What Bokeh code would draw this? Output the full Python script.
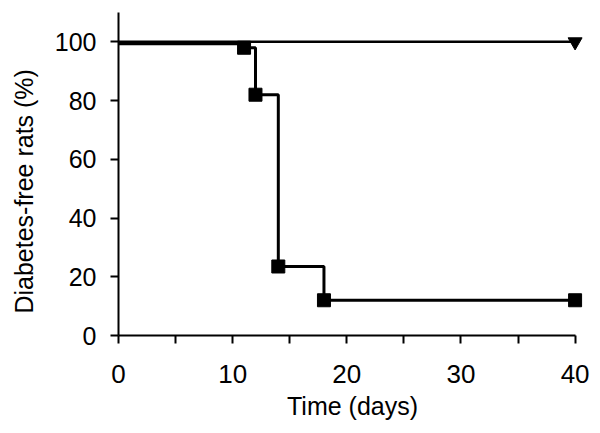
from bokeh.plotting import figure
from bokeh.models import Range1d, FixedTicker
from bokeh.embed import file_html
from bokeh.resources import INLINE

# Data
days_treated = [0, 40]
free_treated = [100, 100]

days_ctrl = [0, 11, 12, 14, 18, 40]
free_ctrl = [99.4, 98, 82, 23.5, 12, 12]

x_ticks = [0, 10, 20, 30, 40]
x_minor = [5, 15, 25, 35]
y_ticks = [0, 20, 40, 60, 80, 100]

FONT = "Liberation Sans"

p = figure(width=592, height=425, output_backend="svg", toolbar_location=None,
           x_range=Range1d(0, 41), y_range=Range1d(0, 110),
           min_border_left=118, min_border_right=6, min_border_top=12, min_border_bottom=90)
p.outline_line_color = None
p.xgrid.visible = False
p.ygrid.visible = False

# treated: flat line with inverted triangle at end
p.line(days_treated, free_treated, line_color="black", line_width=2.5)
p.scatter(days_treated[-1:], free_treated[-1:], marker="inverted_triangle", size=14,
          fill_color="black", line_color="black")

# control: step curve with squares
p.step(days_ctrl, free_ctrl, mode="after", line_color="black", line_width=3)
p.scatter(days_ctrl[1:], free_ctrl[1:], marker="square", size=13,
          fill_color="black", line_color="black")

for ax in (p.xaxis[0], p.yaxis[0]):
    ax.axis_line_width = 2
    ax.axis_line_color = "black"
    ax.major_tick_line_width = 2
    ax.major_tick_line_color = "black"
    ax.minor_tick_line_width = 2
    ax.minor_tick_line_color = "black"
    ax.major_tick_in = 0
    ax.major_tick_out = 8
    ax.minor_tick_in = 0
    ax.major_label_text_font = FONT
    ax.major_label_text_color = "black"
    ax.axis_label_text_font = FONT
    ax.axis_label_text_font_size = "25px"
    ax.axis_label_text_font_style = "normal"
    ax.axis_label_text_color = "black"

p.xaxis.ticker = FixedTicker(ticks=x_ticks, minor_ticks=x_minor)
p.xaxis.minor_tick_out = 8
p.xaxis.bounds = (0, 40)
p.xaxis.axis_label = "Time (days)"
p.xaxis.major_label_text_font_size = "26px"
p.xaxis.major_label_standoff = 21
p.xaxis.axis_label_standoff = 6

p.yaxis.ticker = FixedTicker(ticks=y_ticks, minor_ticks=[])
p.yaxis.minor_tick_out = 0
p.yaxis.bounds = (0, 110)
# trailing no-break spaces nudge the rotated title down towards the 0-100 span
p.yaxis.axis_label = "Diabetes-free rats (%)" + "\u00a0" * 5
p.yaxis.major_label_text_font_size = "25px"
p.yaxis.major_label_standoff = 14
p.yaxis.axis_label_standoff = 14

open("out.html", "w").write(file_html(p, INLINE))
